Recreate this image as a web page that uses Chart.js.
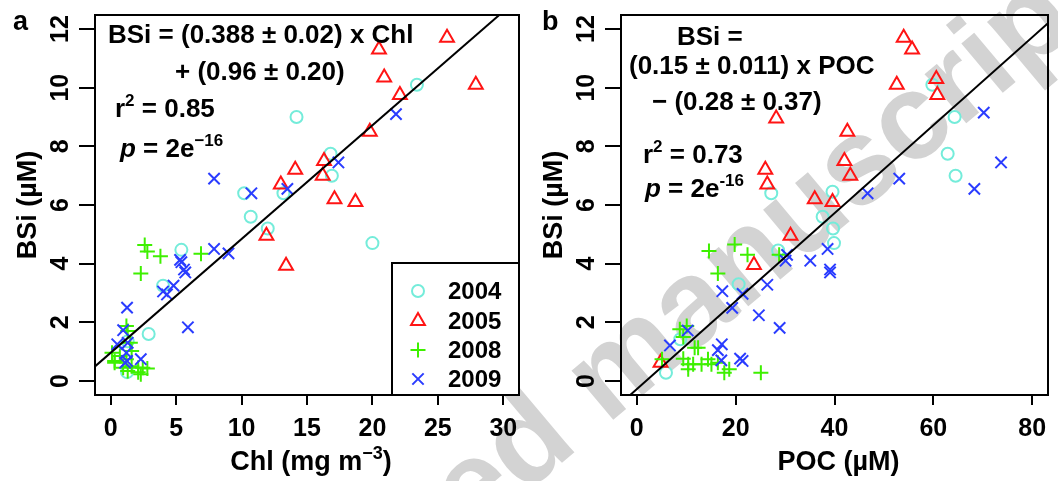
<!DOCTYPE html>
<html>
<head>
<meta charset="utf-8">
<script src="https://cdn.jsdelivr.net/npm/chart.js@4.4.0/dist/chart.umd.min.js"></script>
<style>
  html, body { margin: 0; padding: 0; background: #fff; }
  #page { position: relative; width: 1058px; height: 481px; overflow: hidden; }
  canvas { position: absolute; top: 0; }
  #stamp { left: 0; }
  #chartA { left: 0; }
  #chartB { left: 529px; }
</style>
</head>
<body>
<div id="page">
  <canvas id="stamp" width="1058" height="481"></canvas>
  <canvas id="chartA" width="529" height="481"></canvas>
  <canvas id="chartB" width="529" height="481"></canvas>
</div>
<script>
const FONT = '"Liberation Sans", Arial, Helvetica, sans-serif';

const years = ["2004", "2005", "2008", "2009"];
const yearColors = ["#74ecda", "#ff1414", "#3ef000", "#2a3cff"];
const yearShapes = ["circle", "triangle", "cross", "crossRot"];
const yearRadius = [6, 8, 7.5, 8];

const bsiTicks = [0, 2, 4, 6, 8, 10, 12];
const chlTicks = [0, 5, 10, 15, 20, 25, 30];
const pocTicks = [0, 20, 40, 60, 80];

const bsiRange = [-0.48, 12.48];
const chlRange = [-1.2, 31.2];
const pocRange = [-3.2, 83.2];

// BSi against chlorophyll
const chl2004 = [23.4, 14.2, 16.8, 16.9, 10.2, 13.2, 10.7, 12.0, 20.0, 5.4, 4.0, 2.9, 1.25, 1.3];
const bsiChl2004 = [10.1, 9.0, 7.75, 7.0, 6.4, 6.4, 5.6, 5.2, 4.7, 4.47, 3.25, 1.6, 0.3, 1.35];
const chl2005 = [25.7, 20.5, 20.9, 27.9, 22.1, 19.8, 16.3, 14.1, 16.2, 13.0, 17.1, 18.7, 11.9, 13.4];
const bsiChl2005 = [11.7, 11.3, 10.35, 10.1, 9.75, 8.5, 7.5, 7.2, 7.0, 6.7, 6.2, 6.1, 4.95, 3.93];
const chl2008 = [2.6, 2.8, 3.8, 6.9, 2.3, 1.2, 1.3, 1.5, 1.6, 0.1, 0.3, 0.7, 0.3, 0.95, 1.3, 1.6, 2.1, 2.45, 2.3, 2.8, 2.1, 1.2];
const bsiChl2008 = [4.64, 4.41, 4.25, 4.34, 3.66, 1.87, 1.7, 1.3, 1.02, 0.96, 0.68, 0.85, 0.62, 0.45, 0.34, 0.5, 0.45, 0.45, 0.23, 0.42, 0.3, 0.74];
const chl2009 = [21.8, 17.4, 13.5, 10.75, 7.9, 7.9, 9.0, 5.3, 5.4, 5.6, 5.7, 4.8, 4.0, 4.3, 5.9, 1.25, 0.95, 0.5, 1.3, 1.2, 1.25, 1.1, 2.3];
const bsiChl2009 = [9.1, 7.45, 6.55, 6.4, 6.9, 4.5, 4.35, 4.13, 4.05, 3.8, 3.7, 3.25, 3.05, 2.95, 1.83, 2.5, 1.73, 1.25, 1.3, 0.96, 0.68, 0.62, 0.74];

// BSi against particulate organic carbon
const poc2004 = [59.8, 64.3, 62.9, 64.5, 27.2, 39.6, 37.6, 39.7, 39.9, 28.6, 20.6, 8.8, 5.9];
const bsiPoc2004 = [10.1, 9.0, 7.75, 7.0, 6.4, 6.45, 5.6, 5.2, 4.7, 4.45, 3.3, 1.42, 0.28];
const poc2005 = [54.0, 55.7, 60.6, 52.6, 60.8, 28.2, 42.6, 42.0, 43.2, 26.0, 26.4, 36.0, 39.6, 31.1, 23.7, 4.8];
const bsiPoc2005 = [11.7, 11.3, 10.3, 10.1, 9.75, 8.95, 8.5, 7.5, 7.0, 7.2, 6.7, 6.2, 6.1, 4.95, 3.95, 0.62];
const poc2008 = [19.8, 14.6, 22.4, 28.8, 16.4, 8.7, 10.1, 9.4, 11.7, 12.4, 5.1, 9.4, 10.4, 11.4, 13.1, 14.4, 15.1, 16.4, 17.7, 18.7, 25.1, 10.4];
const bsiPoc2008 = [4.65, 4.43, 4.3, 4.3, 3.66, 1.76, 1.87, 1.5, 1.13, 1.13, 0.74, 0.76, 0.57, 0.57, 0.57, 0.74, 0.57, 0.62, 0.28, 0.4, 0.28, 0.4];
const poc2009 = [70.2, 73.7, 68.3, 53.1, 46.7, 35.1, 38.6, 39.1, 39.1, 30.4, 30.1, 26.4, 21.4, 17.3, 19.3, 24.7, 28.9, 10.3, 6.7, 17.2, 16.4, 17.1, 20.9, 21.4];
const bsiPoc2009 = [9.15, 7.45, 6.55, 6.9, 6.4, 4.1, 4.5, 3.8, 3.7, 4.3, 4.1, 3.28, 2.97, 3.06, 2.49, 2.24, 1.81, 1.72, 1.21, 1.25, 1.05, 0.7, 0.76, 0.68];

// regression: slope, intercept
const chlFit = [0.388, 0.96];
const pocFit = [0.15, -0.28];

// grey stamp running across both panels
(function drawStamp() {
  const c = document.getElementById("stamp").getContext("2d");
  c.save();
  c.translate(160, 800);
  c.rotate(-40 * Math.PI / 180);
  c.fillStyle = "#d3d3d3";
  c.font = "bold 122px " + FONT;
  c.fillText("Accepted manuscript", 0, 0);
  c.restore();
})();

function runsWidth(ctx, runs, size) {
  let w = 0;
  runs.forEach((r) => {
    const sz = r.sup ? Math.round(size * 0.66) : size;
    ctx.font = (r.italic ? "italic " : "") + "bold " + sz + "px " + FONT;
    w += ctx.measureText(r.t).width;
  });
  return w;
}

function drawRuns(ctx, x, y, runs, size) {
  let cx = x;
  runs.forEach((r) => {
    const sz = r.sup ? Math.round(size * 0.66) : size;
    ctx.font = (r.italic ? "italic " : "") + "bold " + sz + "px " + FONT;
    ctx.fillText(r.t, cx, r.sup ? y - size * 0.42 : y);
    cx += ctx.measureText(r.t).width;
  });
}

function legendMark(ctx, i, x, y) {
  ctx.strokeStyle = yearColors[i];
  ctx.fillStyle = "rgba(0,0,0,0)";
  ctx.lineWidth = 2;
  Chart.helpers.drawPoint(ctx, {
    pointStyle: yearShapes[i], radius: yearRadius[i], rotation: 0, borderWidth: 2,
  }, x, y);
}

// box, tick labels, titles, equation text and legend
const panelDecor = {
  id: "panelDecor",
  afterDraw(chart, args, opts) {
    const { ctx, chartArea: a, scales: { x, y } } = chart;
    ctx.save();
    ctx.strokeStyle = "#000";
    ctx.lineWidth = 2;
    ctx.strokeRect(a.left, a.top, a.right - a.left, a.bottom - a.top);

    ctx.fillStyle = "#000";
    ctx.textBaseline = "alphabetic";
    ctx.textAlign = "center";
    ctx.font = "bold 25px " + FONT;
    x.ticks.forEach((t) => ctx.fillText(String(t.value), x.getPixelForValue(t.value), a.bottom + 41));
    y.ticks.forEach((t) => {
      ctx.save();
      ctx.translate(a.left - 27, y.getPixelForValue(t.value));
      ctx.rotate(-Math.PI / 2);
      ctx.fillText(String(t.value), 0, 0);
      ctx.restore();
    });

    // axis titles
    ctx.save();
    ctx.translate(a.left - 59, (a.top + a.bottom) / 2);
    ctx.rotate(-Math.PI / 2);
    ctx.font = "bold 27px " + FONT;
    ctx.fillText("BSi (\u00b5M)", 0, 0);
    ctx.restore();

    ctx.textAlign = "left";
    const tw = runsWidth(ctx, opts.xTitle, 27);
    drawRuns(ctx, (a.left + a.right) / 2 - tw / 2 + 4, 470, opts.xTitle, 27);

    ctx.font = "bold 27px " + FONT;
    ctx.fillText(opts.letter, 13, 30);

    opts.notes.forEach((n) => drawRuns(ctx, n.x, n.y, n.runs, 26));

    if (opts.legend) {
      const L = opts.legend;
      ctx.fillStyle = "#fff";
      ctx.fillRect(L.left, L.top, a.right - L.left, a.bottom - L.top);
      ctx.strokeStyle = "#000";
      ctx.lineWidth = 2;
      ctx.strokeRect(L.left, L.top, a.right - L.left, a.bottom - L.top);
      years.forEach((yr, i) => {
        legendMark(ctx, i, L.symX, L.rows[i]);
        ctx.fillStyle = "#000";
        ctx.font = "bold 24px " + FONT;
        ctx.textBaseline = "middle";
        ctx.fillText(yr, L.textX, L.rows[i] + 1);
      });
    }
    ctx.restore();
  },
};

function axis(range, ticks, size, horizontal) {
  return {
    type: "linear",
    min: range[0],
    max: range[1],
    afterBuildTicks: (s) => { s.ticks = ticks.map((v) => ({ value: v })); },
    afterFit: (s) => { if (horizontal) s.height = size; else s.width = size; },
    ticks: { display: false },
    grid: { drawOnChartArea: false, drawTicks: true, tickLength: horizontal ? 10 : 16, color: "#000", lineWidth: 2 },
    border: { display: false },
  };
}

function yearSets(xs, ys) {
  return years.map((yr, i) => ({
    type: "scatter",
    label: yr,
    data: xs[i].map((v, k) => ({ x: v, y: ys[i][k] })),
    pointStyle: yearShapes[i],
    pointRadius: yearRadius[i],
    pointBorderColor: yearColors[i],
    pointBackgroundColor: "rgba(0,0,0,0)",
    pointBorderWidth: 2,
    showLine: false,
  })).reverse();
}

function fitSet(range, fit) {
  return {
    type: "line",
    label: "fit",
    data: range.map((v) => ({ x: v, y: fit[0] * v + fit[1] })),
    borderColor: "#000",
    borderWidth: 2,
    pointRadius: 0,
    fill: false,
  };
}

function makePanel(id, xRange, xTicks, xs, ys, fit, yWidth, padRight, decor) {
  return new Chart(document.getElementById(id), {
    type: "scatter",
    data: { datasets: [fitSet(xRange, fit), ...yearSets(xs, ys)] },
    options: {
      responsive: false,
      animation: false,
      events: [],
      layout: { padding: { top: 15, right: padRight, left: 0, bottom: 0 } },
      scales: {
        x: axis(xRange, xTicks, 86, true),
        y: axis(bsiRange, bsiTicks, yWidth, false),
      },
      plugins: { legend: { display: false }, tooltip: { enabled: false }, panelDecor: decor },
    },
    plugins: [panelDecor],
  });
}

makePanel("chartA", chlRange, chlTicks,
  [chl2004, chl2005, chl2008, chl2009],
  [bsiChl2004, bsiChl2005, bsiChl2008, bsiChl2009],
  chlFit, 95, 1, {
    letter: "a",
    xTitle: [{ t: "Chl (mg m" }, { t: "\u22123", sup: true }, { t: ")" }],
    notes: [
      { x: 108, y: 43, runs: [{ t: "BSi = (0.388 \u00b1 0.02) x Chl" }] },
      { x: 175, y: 80, runs: [{ t: "+ (0.96 \u00b1 0.20)" }] },
      { x: 115, y: 117, runs: [{ t: "r" }, { t: "2", sup: true }, { t: " = 0.85" }] },
      { x: 120, y: 157, runs: [{ t: "p", italic: true }, { t: " = 2e" }, { t: "\u221216", sup: true }] },
    ],
    legend: { left: 392, top: 263, symX: 418, textX: 448, rows: [291, 321, 350, 379] },
  });

makePanel("chartB", pocRange, pocTicks,
  [poc2004, poc2005, poc2008, poc2009],
  [bsiPoc2004, bsiPoc2005, bsiPoc2008, bsiPoc2009],
  pocFit, 92, 4, {
    letter: "b",
    xTitle: [{ t: "POC (\u00b5M)" }],
    notes: [
      { x: 148, y: 45, runs: [{ t: "BSi =" }] },
      { x: 100, y: 74, runs: [{ t: "(0.15 \u00b1 0.011) x POC" }] },
      { x: 123, y: 110, runs: [{ t: "\u2212 (0.28 \u00b1 0.37)" }] },
      { x: 114, y: 163, runs: [{ t: "r" }, { t: "2", sup: true }, { t: " = 0.73" }] },
      { x: 116, y: 197, runs: [{ t: "p", italic: true }, { t: " = 2e" }, { t: "-16", sup: true }] },
    ],
  });
</script>
</body>
</html>
